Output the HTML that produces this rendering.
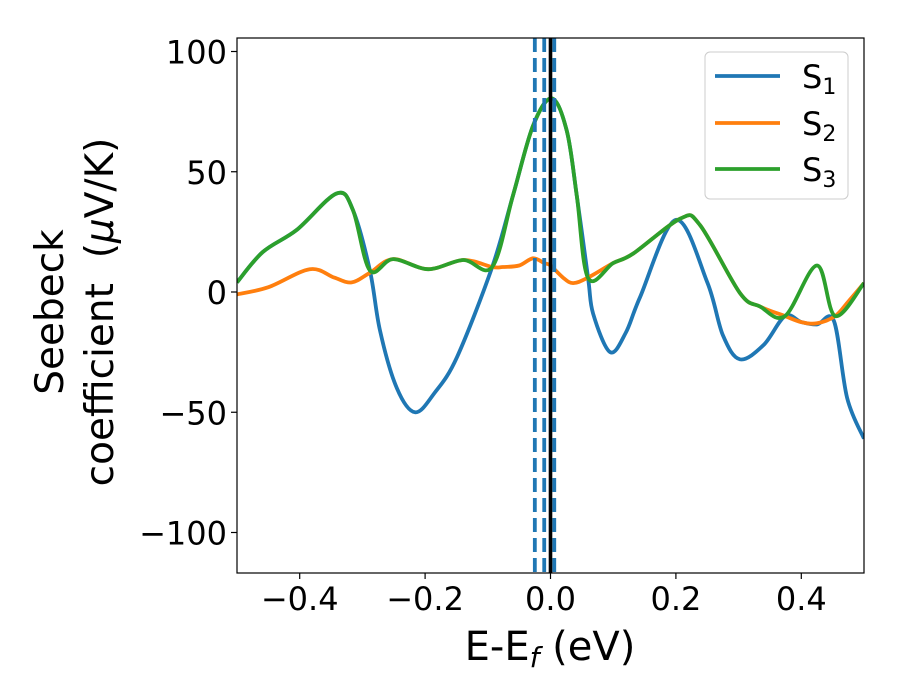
<!DOCTYPE html>
<html><head><meta charset="utf-8">
<style>
body{margin:0;background:#fff;}
svg{display:block;font-family:"DejaVu Sans","Liberation Sans",sans-serif;}
</style></head>
<body>
<svg id="chart" width="900" height="700" viewBox="0 0 900 700">
  <g id="plot"></g>
</svg>
<script>
const xTicks = [-0.4, -0.2, 0.0, 0.2, 0.4];
const xTickLabels = ["\u22120.4", "\u22120.2", "0.0", "0.2", "0.4"];
const yTicks = [100, 50, 0, -50, -100];
const yTickLabels = ["100", "50", "0", "\u221250", "\u2212100"];
const seriesNames = ["S1", "S2", "S3"];
const e1 = [-0.5,-0.459,-0.405,-0.341,-0.315,-0.288,-0.272,-0.245,-0.216,-0.185,-0.149,-0.093,-0.060,-0.028,0.002,0.026,0.042,0.060,0.068,0.095,0.12,0.143,0.2,0.25,0.275,0.302,0.34,0.374,0.40,0.425,0.452,0.473,0.5];
const s1 = [4,16.6,25.8,41,34,9,-16,-40,-50,-42,-27,10.4,40,69,80.5,67,40,5.8,-9,-25,-17,-2,30,4,-18,-28,-22,-10,-12.5,-13.5,-12,-44,-61];
const e2 = [-0.5,-0.45,-0.384,-0.345,-0.317,-0.288,-0.251,-0.195,-0.139,-0.093,-0.076,-0.05,-0.028,-0.01,0.0,0.02,0.036,0.06,0.10,0.132,0.207,0.238,0.302,0.334,0.374,0.40,0.425,0.454,0.475,0.5];
const s2 = [-1,2,9.5,6,4,8,13.7,9.5,13.3,10.4,10.4,11,14,12,11,6,3.7,6,12,16,30.5,28,-0.4,-6,-10,-12.5,-13,-10,-4,3.7];
const e3 = [-0.5,-0.459,-0.405,-0.341,-0.315,-0.288,-0.251,-0.195,-0.139,-0.093,-0.060,-0.028,0.002,0.026,0.042,0.060,0.10,0.132,0.207,0.238,0.302,0.334,0.374,0.425,0.454,0.5];
const s3 = [4,16.6,25.8,41,34,9,13.7,9.5,13.3,10.4,40,69,80.5,67,40,5.8,12,16,30.5,28,-0.4,-6,-10,11,-10,3.7];
const dashedLines = [-0.025, -0.01, 0.006];
const solidLine = [0.0];

const L=237,R=864,T=38,B=573;
const xMin=-0.5,xMax=0.5;
function X(e){return L+(e-xMin)/(xMax-xMin)*(R-L);}
function Y(s){return 292-2.405*s;}
const NS="http://www.w3.org/2000/svg";
const plot=document.getElementById('plot');
function mk(tag,attrs,parent){const el=document.createElementNS(NS,tag);for(const k in attrs)el.setAttribute(k,attrs[k]);(parent||plot).appendChild(el);return el;}

function smooth(xs,ys){
  const p=xs.map((e,i)=>[X(e),Y(ys[i])]);
  let d="M"+p[0][0].toFixed(1)+","+p[0][1].toFixed(1);
  for(let i=0;i<p.length-1;i++){
    const p0=p[i-1]||p[i],p1=p[i],p2=p[i+1],p3=p[i+2]||p[i+1];
    const c1=[p1[0]+(p2[0]-p0[0])/6,p1[1]+(p2[1]-p0[1])/6];
    const c2=[p2[0]-(p3[0]-p1[0])/6,p2[1]-(p3[1]-p1[1])/6];
    d+=" C"+c1[0].toFixed(1)+","+c1[1].toFixed(1)+" "+c2[0].toFixed(1)+","+c2[1].toFixed(1)+" "+p2[0].toFixed(1)+","+p2[1].toFixed(1);
  }
  return d;
}

const cp=mk('clipPath',{id:'clip'});
mk('rect',{x:L,y:T,width:R-L,height:B-T},cp);
const g=mk('g',{'clip-path':'url(#clip)'});



const colors=['#1f77b4','#ff7f0e','#2ca02c'];
const data=[[e1,s1],[e2,s2],[e3,s3]];
data.forEach((d,i)=>{
  const p=mk('path',{d:smooth(d[0],d[1]),fill:'none',stroke:colors[i],'stroke-width':3.8,'stroke-linejoin':'round'},g);
  
  
});
dashedLines.forEach((e,i)=>{
  const l=mk('line',{x1:X(e),x2:X(e),y1:T,y2:B,stroke:'#1f77b4','stroke-width':3.8,'stroke-dasharray':'14,6'},g);
  
  
});
solidLine.forEach(e=>{
  const l=mk('line',{x1:X(e),x2:X(e),y1:T,y2:B,stroke:'#000','stroke-width':3.6},g);
  
  
});

const frame=mk('rect',{x:L,y:T,width:R-L,height:B-T,fill:'none',stroke:'#000','stroke-width':1.2});



xTicks.forEach((t,i)=>{
  const x=X(t);
  mk('line',{x1:x,x2:x,y1:B,y2:B+6,stroke:'#000','stroke-width':1.2});
  const tx=mk('text',{x:x,y:B+37,'text-anchor':'middle','font-size':32,fill:'#000'});
  tx.textContent=xTickLabels[i];
  
  
});
yTicks.forEach((t,i)=>{
  const y=Y(t);
  mk('line',{x1:L-6,x2:L,y1:y,y2:y,stroke:'#000','stroke-width':1.2});
  const tx=mk('text',{x:L-10,y:y+12,'text-anchor':'end','font-size':32,fill:'#000'});
  tx.textContent=yTickLabels[i];
  
  
});
</script>
<svg style="position:absolute;left:0;top:0" width="900" height="700">
  <text x="550" y="660" text-anchor="middle" font-size="40">E-E<tspan font-style="italic" font-size="28" dy="7">f</tspan><tspan dy="-7"> (eV)</tspan></text>
  <g transform="translate(63,312) rotate(-90)" font-size="39">
    <text x="0" y="0" text-anchor="middle">Seebeck</text>
    <text x="0" y="50" text-anchor="middle">coefficient&#160;&#160;(<tspan font-style="italic">μ</tspan>V/K)</text>
  </g>
  <g>
    <rect x="705" y="52" width="143" height="147" rx="5" fill="#fff" fill-opacity="0.8" stroke="#ccc" stroke-width="1"/>
    <line x1="715" x2="780" y1="76" y2="76" stroke="#1f77b4" stroke-width="3.8"/>
    <text x="802" y="88" font-size="32">S<tspan font-size="22" dy="6">1</tspan></text>
    <line x1="715" x2="780" y1="123" y2="123" stroke="#ff7f0e" stroke-width="3.8"/>
    <text x="802" y="135" font-size="32">S<tspan font-size="22" dy="6">2</tspan></text>
    <line x1="715" x2="780" y1="169" y2="169" stroke="#2ca02c" stroke-width="3.8"/>
    <text x="802" y="181" font-size="32">S<tspan font-size="22" dy="6">3</tspan></text>
  </g>
</svg>
</body></html>
